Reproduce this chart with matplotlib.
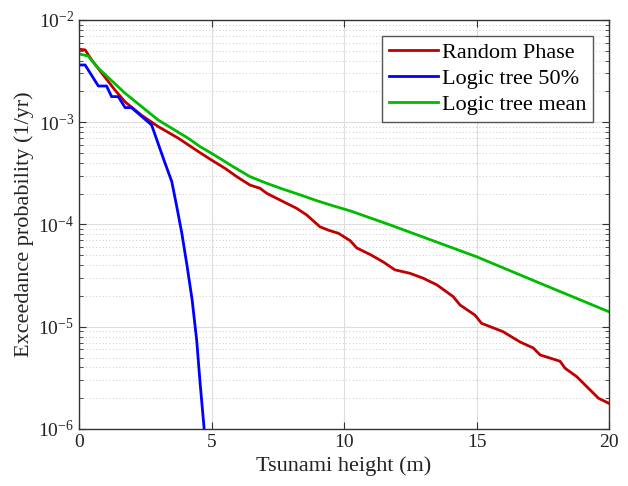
import numpy as np
import matplotlib
matplotlib.use("Agg")
import matplotlib.pyplot as plt
from matplotlib.ticker import LogLocator, NullFormatter, FuncFormatter

plt.rcParams.update({
    "font.family": "Liberation Serif",
    "mathtext.fontset": "custom",
    "mathtext.rm": "Liberation Serif",
    "mathtext.it": "Liberation Serif:italic",
})

# ─── Data ────────────────────────────────────────────────────────────────────
rp_x = [0.0, 0.23, 0.48, 0.86, 1.36, 1.74, 2.36, 2.99, 3.75, 4.57, 5.0, 5.51,
        5.95, 6.45, 6.83, 7.08, 7.71, 8.21, 8.59, 9.09, 9.41, 9.79, 10.23,
        10.48, 11.04, 11.48, 11.92, 12.49, 12.99, 13.5, 14.12, 14.38, 14.94,
        15.19, 16.0, 16.64, 17.14, 17.4, 18.15, 18.34, 18.78, 19.6, 20.0]
rp_y = [5.17e-3, 5.1e-3, 4.06e-3, 3.02e-3, 2.06e-3, 1.58e-3, 1.17e-3, 9.06e-4,
        6.97e-4, 5.03e-4, 4.27e-4, 3.54e-4, 2.94e-4, 2.43e-4, 2.26e-4, 2.02e-4,
        1.67e-4, 1.44e-4, 1.24e-4, 9.5e-5, 8.8e-5, 8.2e-5, 6.95e-5, 5.9e-5,
        5.0e-5, 4.3e-5, 3.6e-5, 3.33e-5, 2.98e-5, 2.57e-5, 1.97e-5, 1.63e-5,
        1.30e-5, 1.08e-5, 8.95e-6, 7.1e-6, 6.2e-6, 5.3e-6, 4.6e-6, 3.93e-6,
        3.25e-6, 2.0e-6, 1.78e-6]

lt50_x = [0.0, 0.23, 0.73, 1.04, 1.23, 1.48, 1.74, 1.98, 2.74, 2.93, 3.2, 3.5,
          3.69, 3.88, 4.08, 4.27, 4.44, 4.57, 4.72, 4.8]
lt50_y = [3.63e-3, 3.63e-3, 2.26e-3, 2.26e-3, 1.78e-3, 1.78e-3, 1.39e-3,
          1.39e-3, 9.4e-4, 6.8e-4, 4.3e-4, 2.63e-4, 1.49e-4, 8.2e-5, 3.9e-5,
          1.82e-5, 7.4e-6, 2.8e-6, 1.02e-6, 6.0e-7]

ltm_x = [0.0, 0.35, 0.73, 1.74, 2.99, 4.12, 4.57, 5.0, 5.82, 6.45, 7.08, 7.71,
         8.34, 8.97, 9.6, 10.23, 11.74, 15.0, 17.4, 20.0]
ltm_y = [4.66e-3, 4.44e-3, 3.37e-3, 1.92e-3, 1.05e-3, 6.97e-4, 5.77e-4,
         4.97e-4, 3.67e-4, 2.94e-4, 2.53e-4, 2.21e-4, 1.95e-4, 1.71e-4,
         1.52e-4, 1.36e-4, 9.9e-5, 4.84e-5, 2.66e-5, 1.40e-5]

# ─── Figure ──────────────────────────────────────────────────────────────────
fig = plt.figure(figsize=(6.28, 4.86), dpi=100)
ax = fig.add_axes([0.1258, 0.1173, 0.844, 0.8416])

ax.semilogy(rp_x, rp_y, color="#C00000", linewidth=2, label="Random Phase")
ax.semilogy(lt50_x, lt50_y, color="#0000FF", linewidth=2, label="Logic tree 50%")
ax.semilogy(ltm_x, ltm_y, color="#00BB00", linewidth=2, label="Logic tree mean")

ax.set_xlim(0, 20)
ax.set_ylim(1e-6, 1e-2)
ax.set_xticks([0, 5, 10, 15, 20])
ax.yaxis.set_major_locator(LogLocator(base=10, numticks=10))
ax.yaxis.set_major_formatter(FuncFormatter(
    lambda v, p: r"$10^{\mathrm{-%d}}$" % round(-np.log10(v))))
ax.yaxis.set_minor_locator(LogLocator(base=10, subs=np.arange(2, 10), numticks=10))
ax.yaxis.set_minor_formatter(NullFormatter())

ax.grid(True, which="major", color="#DDDDDD", linewidth=0.8, linestyle="-")
ax.grid(True, which="minor", axis="y", color="#BBBBBB", linewidth=0.6, linestyle=(0, (1, 3)))
ax.set_axisbelow(True)

ax.tick_params(which="both", direction="in", top=True, right=True,
               colors="#333333", labelcolor="#222222", labelsize=14)
ax.tick_params(which="major", length=5)
ax.tick_params(which="minor", length=3)
for s in ax.spines.values():
    s.set_color("#333333")
    s.set_linewidth(1)

ax.set_xlabel("Tsunami height (m)", fontsize=16, labelpad=4, color="#222222")
ax.set_ylabel("Exceedance probability (1/yr)", fontsize=16, labelpad=3, color="#222222")

leg = ax.legend(loc="upper right", fontsize=16, frameon=True, fancybox=False,
                edgecolor="#555555", framealpha=1, borderaxespad=0.7,
                handlelength=2.2, handletextpad=0.2, labelspacing=0.25,
                borderpad=0.3)
leg.get_frame().set_linewidth(1)

fig.savefig("out.png", dpi=100)
